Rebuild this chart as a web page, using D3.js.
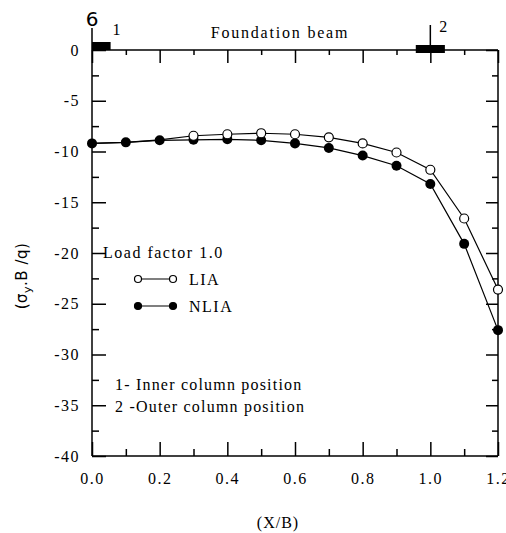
<!DOCTYPE html>
<html><head><meta charset="utf-8">
<script src="https://cdn.jsdelivr.net/npm/d3@7"></script>
<style>
body{margin:0;background:#fff;}
svg{display:block;}
svg text{font-family:"Liberation Serif","Times New Roman",Times,serif;}
svg text.sans{font-family:"DejaVu Sans",sans-serif;}
</style></head>
<body><svg id="c" width="506" height="533"></svg>
<script>
const xValues = [0.0,0.1,0.2,0.3,0.4,0.5,0.6,0.7,0.8,0.9,1.0,1.1,1.2];
const liaValues = [-9.2,-9.1,-8.85,-8.45,-8.3,-8.2,-8.3,-8.6,-9.2,-10.1,-11.8,-16.6,-23.6];
const nliaValues = [-9.2,-9.1,-8.9,-8.85,-8.8,-8.9,-9.2,-9.65,-10.4,-11.4,-13.2,-19.1,-27.6];
const xMajorTicks = [0.0,0.2,0.4,0.6,0.8,1.0,1.2];
const xMinorTicks = [0.1,0.3,0.5,0.7,0.9,1.1];
const yMajorTicks = [0,-5,-10,-15,-20,-25,-30,-35,-40];
const yMinorTicks = [-2.5,-7.5,-12.5,-17.5,-22.5,-27.5,-32.5,-37.5];
const columnPositions = [{label:"1", x0:0.0, x1:0.055}, {label:"2", x0:0.957, x1:1.043}];

const svg = d3.select("#c");
const L=92, R=498, T=50, B=456;
const x = d3.scaleLinear().domain([0,1.2]).range([L,R]);
const y = d3.scaleLinear().domain([-40,0]).range([B,T]);

function styleAxis(g){
  g.selectAll(".domain").remove();
  g.selectAll("line").attr("stroke","#000").attr("stroke-width",1.5);
}
// top axis ticks (downward)
svg.append("g").attr("transform",`translate(0,${T})`)
  .call(d3.axisBottom(x).tickValues(xMajorTicks).tickSize(13).tickFormat(""))
  .call(styleAxis);
svg.append("g").attr("transform",`translate(0,${T})`)
  .call(d3.axisBottom(x).tickValues(xMinorTicks).tickSize(5).tickFormat(""))
  .call(styleAxis);
// bottom axis ticks (upward)
svg.append("g").attr("transform",`translate(0,${B})`)
  .call(d3.axisTop(x).tickValues(xMajorTicks).tickSize(14).tickFormat(""))
  .call(styleAxis);
svg.append("g").attr("transform",`translate(0,${B})`)
  .call(d3.axisTop(x).tickValues(xMinorTicks).tickSize(7).tickFormat(""))
  .call(styleAxis);
// bottom labels
const xl = svg.append("g").attr("transform",`translate(0,${B})`)
  .call(d3.axisBottom(x).tickValues(xMajorTicks).tickSize(0).tickPadding(17).tickFormat(d=>d.toFixed(1)));
xl.select(".domain").remove();
xl.selectAll("text").attr("font-size",16).attr("letter-spacing","1.5px").attr("fill","#000");
// left ticks (inward)
svg.append("g").attr("transform",`translate(${L},0)`)
  .call(d3.axisRight(y).tickValues(yMajorTicks).tickSize(14).tickFormat(""))
  .call(styleAxis);
svg.append("g").attr("transform",`translate(${L},0)`)
  .call(d3.axisRight(y).tickValues(yMinorTicks).tickSize(7).tickFormat(""))
  .call(styleAxis);
const yl = svg.append("g").attr("transform",`translate(${L},0)`)
  .call(d3.axisLeft(y).tickValues(yMajorTicks).tickSize(0).tickPadding(12).tickFormat(d=>String(d)));
yl.select(".domain").remove();
yl.selectAll("text").attr("font-size",16).attr("letter-spacing","1.5px").attr("fill","#000");
// right ticks (inward)
svg.append("g").attr("transform",`translate(${R},0)`)
  .call(d3.axisLeft(y).tickValues(yMajorTicks).tickSize(12).tickFormat(""))
  .call(styleAxis);
svg.append("g").attr("transform",`translate(${R},0)`)
  .call(d3.axisLeft(y).tickValues(yMinorTicks).tickSize(6).tickFormat(""))
  .call(styleAxis);
svg.selectAll("g").attr("font-family",null);

// frame
svg.append("line").attr("x1",L).attr("x2",L).attr("y1",28).attr("y2",B).attr("stroke","#000").attr("stroke-width",1.5);
svg.append("line").attr("x1",R).attr("x2",R).attr("y1",T).attr("y2",B).attr("stroke","#000").attr("stroke-width",1.5);
svg.append("line").attr("x1",L).attr("x2",R).attr("y1",T).attr("y2",T).attr("stroke","#000").attr("stroke-width",1.5);
svg.append("line").attr("x1",L).attr("x2",R).attr("y1",B).attr("y2",B).attr("stroke","#000").attr("stroke-width",1.5);

// stray "6" label at top of y axis
svg.append("text").attr("class","sans").attr("x",x(0)).attr("y",26).attr("text-anchor","middle")
  .attr("font-size",20).text("6");

// column markers
columnPositions.forEach((c,i)=>{
  const h = i===0 ? [42,50] : [45,53];
  svg.append("rect").attr("x",x(c.x0)).attr("y",h[0]).attr("width",x(c.x1)-x(c.x0)).attr("height",h[1]-h[0]).attr("fill","#000");
});
svg.append("line").attr("x1",x(1.0)).attr("x2",x(1.0)).attr("y1",25).attr("y2",T).attr("stroke","#000").attr("stroke-width",1.5);
svg.append("text").attr("x",x(0.055)+2).attr("y",35).attr("font-size",16).text("1");
svg.append("text").attr("x",x(1.0)+9).attr("y",32).attr("font-size",16).text("2");
svg.append("text").attr("x",280).attr("y",38).attr("text-anchor","middle").attr("font-size",16).attr("letter-spacing","1.8px").text("Foundation beam");

// series
const line = d3.line().x(d=>x(d[0])).y(d=>y(d[1]));
const lia = xValues.map((v,i)=>[v,liaValues[i]]);
const nlia = xValues.map((v,i)=>[v,nliaValues[i]]);
[lia,nlia].forEach(s=>{
  svg.append("path").datum(s).attr("d",line).attr("fill","none").attr("stroke","#000").attr("stroke-width",1.2);
});
svg.append("g").selectAll("circle").data(nlia).join("circle")
  .attr("cx",d=>x(d[0])).attr("cy",d=>y(d[1])).attr("r",5).attr("fill","#000");
svg.append("g").selectAll("circle").data(lia.slice(3)).join("circle")
  .attr("cx",d=>x(d[0])).attr("cy",d=>y(d[1])).attr("r",4.5).attr("fill","#fff").attr("stroke","#000").attr("stroke-width",1.2);

// legend
svg.append("text").attr("x",103).attr("y",258).attr("font-size",16).attr("letter-spacing","1.5px").text("Load factor 1.0");
const legend = [{name:"LIA", fill:"#fff", y:279},{name:"NLIA", fill:"#000", y:306}];
legend.forEach(l=>{
  svg.append("line").attr("x1",138).attr("x2",173).attr("y1",l.y).attr("y2",l.y).attr("stroke","#000").attr("stroke-width",1.2);
  [138,173].forEach(cx=>svg.append("circle").attr("cx",cx).attr("cy",l.y).attr("r",3.5).attr("fill",l.fill).attr("stroke","#000").attr("stroke-width",1.2));
  svg.append("text").attr("x",189).attr("y",l.y+6).attr("font-size",16).attr("letter-spacing","1.5px").text(l.name);
});

// notes
svg.append("text").attr("x",115).attr("y",390).attr("font-size",16).attr("letter-spacing","1.2px").text("1- Inner column position");
svg.append("text").attr("x",115).attr("y",412).attr("font-size",16).attr("letter-spacing","1.2px").text("2 -Outer column position");

// axis titles
svg.append("text").attr("x",278).attr("y",528).attr("text-anchor","middle").attr("font-size",16).attr("letter-spacing","1px").text("(X/B)");
const yt = svg.append("text").attr("class","sans").attr("transform","translate(27,276) rotate(-90)").attr("text-anchor","middle")
  .attr("font-size",15).attr("letter-spacing","0.5px");
yt.append("tspan").text("(σ");
yt.append("tspan").attr("font-size",11).attr("dy",4).text("y");
yt.append("tspan").attr("dy",-4).text(".B /q)");
</script></body></html>
